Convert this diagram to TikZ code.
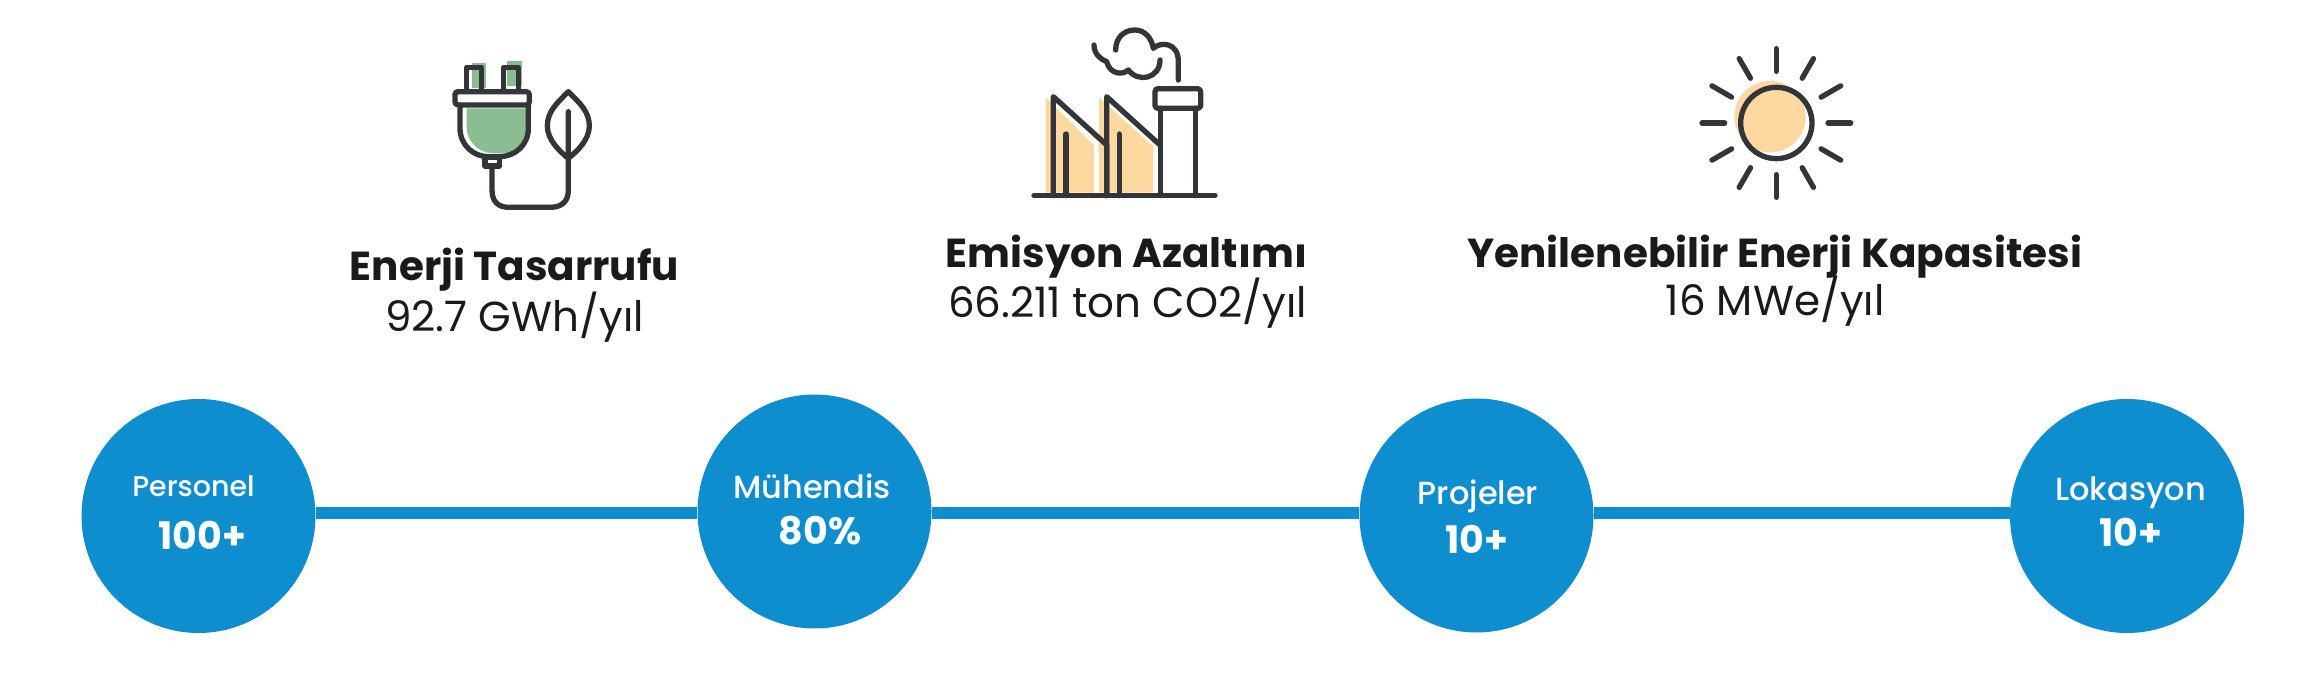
\documentclass[tikz,border=0pt]{standalone}
\usepackage{fontspec}
\setmainfont{Poppins}
\newfontfamily\med{Poppins Medium}
\newfontfamily\bld{Poppins}[UprightFont=* Bold]
\definecolor{blueC}{RGB}{14,142,207}
\definecolor{ink}{RGB}{26,26,26}
\definecolor{iconC}{RGB}{51,53,56}
\definecolor{greenC}{RGB}{138,189,145}
\definecolor{orangeC}{RGB}{253,217,160}
\tikzset{
  hub/.style={circle,fill=blueC,minimum size=234pt,inner sep=0pt,draw=none},
  rail/.style={draw=blueC,line width=12pt},
  txt/.style={anchor=base,inner sep=0pt,outer sep=0pt},
  lab/.style={txt,text=white,font=\med\fontsize{#1}{#1}\selectfont},
  num/.style={txt,text=white,font=\bld\fontsize{#1}{#1}\selectfont},
  ttl/.style={txt,text=ink,font=\bld\fontsize{#1}{#1}\selectfont},
  sub/.style={txt,text=ink,font=\fontsize{#1}{#1}\selectfont},
  ico/.style={draw=iconC,line width=5.3pt,line cap=round,line join=round},
  zoomA/.style={shift={(#1)},x=0.33333pt,y=-0.33333pt}
}
\begin{document}
\begin{tikzpicture}[x=1pt,y=-1pt]
\path[use as bounding box,fill=white] (0,0) rectangle (2300,700);
% hubs
\node[hub] (c1) at (198.5,516) {};
\node[hub] (c2) at (814.5,511.5) {};
\node[hub] (c3) at (1476.5,515.5) {};
\node[hub] (c4) at (2127,516) {};
\coordinate (railY) at (0,513);
\draw[rail] (c1.east |- railY) -- (c2.west |- railY);
\draw[rail] (c2.east |- railY) -- (c3.west |- railY);
\draw[rail] (c3.east |- railY) -- (c4.west |- railY);
\node[lab=28.5] (l1) at (193.5,496) {Personel};
\node[num=38] (n1) at (202.5,549) {100+};
\node[lab=32] (l2) at (812,498) {Mühendis};
\node[num=38] (n2) at (820,544) {80\%};
\node[lab=32] (l3) at (1478,504) {Projeler};
\node[num=38] (n3) at (1477,553) {10+};
\node[lab=32] (l4) at (2130.5,500) {Lokasyon};
\node[num=38] (n4) at (2131,546) {10+};
% headings
\node[ttl=40.5] (t1) at (514.5,281) {Enerji Tasarrufu};
\node[sub=42] (s1) at (514.5,332) {92.7 GWh/yıl};
\node[ttl=40.5] (t2) at (1126.5,268) {Emisyon Azaltımı};
\node[sub=42] (s2) at (1127.5,318) {66.211 ton CO2/yıl};
\node[ttl=40.5] (t3) at (1775,268) {Yenilenebilir Enerji Kapasitesi};
\node[sub=42] (s3) at (1775,316) {16 MWe/yıl};
% plug icon
\begin{scope}[zoomA={420,40}]
\fill[greenC] (155,68) rectangle (197,145);
\fill[greenC] (262,63) rectangle (305,137);
\fill[greenC] (140,205) -- (333,205) -- (333,262) .. controls (333,310) and (300,340) .. (250,340) -- (215,340) .. controls (170,335) and (140,300) .. (140,262) -- cycle;
\draw[ico] (140,150) -- (140,82) -- (185,82) -- (185,150);
\draw[ico] (250,150) -- (250,82) -- (295,82) -- (295,150);
\draw[ico,rounded corners=3pt] (105,155) rectangle (328,195);
\draw[ico] (120,195) -- (120,265) .. controls (120,315) and (160,350) .. (205,350) -- (238,350) .. controls (285,350) and (325,315) .. (325,265) -- (325,195);
\draw[ico] (195,352) rectangle (238,378);
\draw[ico] (216,378) -- (216,450) .. controls (216,485) and (235,502) .. (266,502) -- (390,502) .. controls (425,502) and (445,485) .. (445,450) -- (445,215);
\draw[ico] (445,155) .. controls (480,190) and (508,215) .. (508,258) .. controls (508,300) and (470,335) .. (445,355) .. controls (420,335) and (382,300) .. (382,258) .. controls (382,215) and (410,190) .. (445,155) -- cycle;
\end{scope}
% factory icon
\begin{scope}[zoomA={1010,10}]
\fill[orangeC] (107,262) -- (252,407) -- (252,548) -- (107,548) -- cycle;
\fill[orangeC] (267,262) -- (430,410) -- (430,548) -- (267,548) -- cycle;
\draw[ico] (130,557) -- (130,260) -- (290,405) -- (290,557);
\draw[ico] (290,557) -- (290,260) -- (450,405);
\draw[ico] (168,372) -- (168,557);
\draw[ico] (328,372) -- (328,557);
\draw[ico] (451,295) -- (451,557);
\draw[ico] (556,295) -- (556,557);
\draw[ico,rounded corners=3pt] (435,236) rectangle (572,295);
\draw[ico] (72,557) -- (615,557);
\draw[ico] (252,105) .. controls (252,130) and (270,148) .. (290,155) .. controls (300,195) and (340,195) .. (355,180) .. controls (385,220) and (450,205) .. (450,150);
\draw[ico] (317,120) .. controls (317,85) and (340,60) .. (375,60) .. controls (405,60) and (425,85) .. (430,115) .. controls (450,95) and (505,95) .. (505,155) -- (505,210);
\end{scope}
% sun icon
\begin{scope}[zoomA={1680,30}]
\fill[orangeC] (270,260) circle[radius=107];
\draw[ico] (289,279) circle[radius=107];
\foreach \a in {0,30,...,330}
  \draw[ico] ({289+155*cos(\a)},{279+155*sin(\a)}) -- ({289+223*cos(\a)},{279+223*sin(\a)});
\end{scope}
\end{tikzpicture}
\end{document}
